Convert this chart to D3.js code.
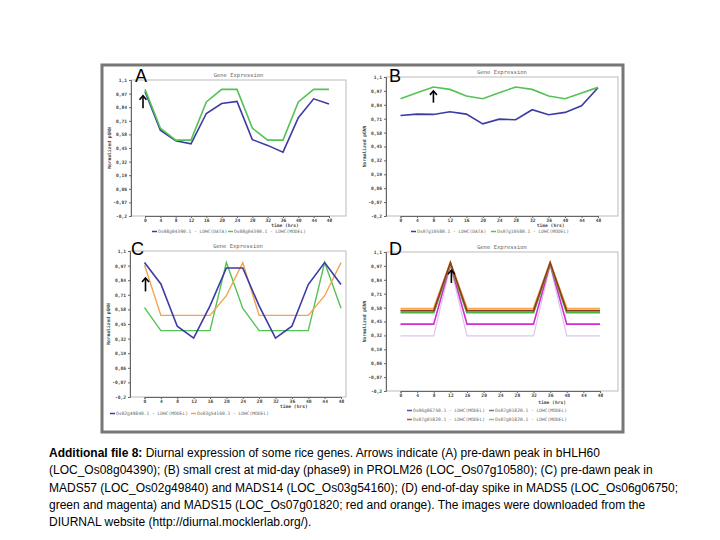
<!DOCTYPE html>
<html><head><meta charset="utf-8">
<script src="https://cdn.jsdelivr.net/npm/d3@7"></script>
<style>body{margin:0;background:#fff}svg{display:block}</style>
</head><body>
<svg id="c" width="720" height="540"></svg>
<script>
// ---- data ----
const hours = [0,4,8,12,16,20,24,28,32,36,40,44,48];
const yTicks = [1.1,0.97,0.84,0.71,0.58,0.45,0.32,0.19,0.06,-0.07,-0.2];
const yTickLabels = ["1,1","0,97","0,84","0,71","0,58","0,45","0,32","0,19","0,06","-0,07","-0,2"];

// Panel A: Os08g04390.1
const aData  = [0.99,0.62,0.52,0.49,0.78,0.875,0.895,0.53,0.475,0.41,0.74,0.92,0.87];
const aModel = [1.01,0.64,0.525,0.525,0.89,1.01,1.01,0.64,0.525,0.525,0.89,1.01,1.01];
// Panel B: Os07g10580.1
const bData  = [0.74,0.753,0.75,0.775,0.753,0.662,0.706,0.70,0.794,0.747,0.769,0.831,1.0];
const bModel = [0.897,0.953,1.006,0.984,0.922,0.897,0.953,1.006,0.984,0.922,0.897,0.95,1.003];
// Panel C
const cOs02 = [0.997,0.807,0.43,0.325,0.611,0.949,0.949,0.611,0.325,0.43,0.801,0.997,0.801];
const cOs03 = [0.975,0.527,0.527,0.527,0.527,0.702,0.997,0.527,0.527,0.527,0.527,0.702,0.997];
const cThird = [0.596,0.391,0.391,0.391,0.391,0.997,0.59,0.391,0.391,0.391,0.391,0.997,0.59];
// Panel D
const dOrange   = [0.57,0.57,0.57,1.0,0.57,0.57,0.57,0.57,0.57,1.0,0.57,0.57,0.57];
const dRed      = [0.55,0.55,0.55,1.0,0.55,0.55,0.55,0.55,0.55,1.0,0.55,0.55,0.55];
const dGreen    = [0.535,0.535,0.535,0.99,0.535,0.535,0.535,0.535,0.535,0.99,0.535,0.535,0.535];
const dMagenta  = [0.425,0.425,0.425,0.99,0.425,0.425,0.425,0.425,0.425,0.99,0.425,0.425,0.425];
const dLavender = [0.315,0.315,0.315,0.97,0.315,0.315,0.315,0.315,0.315,0.97,0.315,0.315,0.315];

const legendA = ["Os08g04390.1 - LDHC(DATA)","Os08g04390.1 - LDHC(MODEL)"];
const legendB = ["Os07g10580.1 - LDHC(DATA)","Os07g10580.1 - LDHC(MODEL)"];
const legendC = ["Os02g49840.1 - LDHC(MODEL)","Os03g54160.1 - LDHC(MODEL)"];
const legendD = ["Os06g06750.1 - LDHC(MODEL)","Os07g01820.1 - LDHC(MODEL)","Os07g01820.1 - LDHC(MODEL)","Os07g01820.1 - LDHC(MODEL)"];

const caption = [
  [["Additional file 8:",true],[" Diurnal expression of some rice genes. Arrows indicate (A) pre-dawn peak in bHLH60",false]],
  [["(LOC_Os08g04390); (B) small crest at mid-day (phase9) in PROLM26 (LOC_Os07g10580); (C) pre-dawn peak in",false]],
  [["MADS57 (LOC_Os02g49840) and MADS14 (LOC_Os03g54160); (D) end-of-day spike in MADS5 (LOC_Os06g06750;",false]],
  [["green and magenta) and MADS15 (LOC_Os07g01820; red and orange). The images were downloaded from the",false]],
  [["DIURNAL website (http://diurnal.mocklerlab.org/).",false]]
];

// ---- colours ----
const BLUE="#3b3ba6", GREEN="#55c255", ORANGE="#f4a24e";

const svg = d3.select("#c");
svg.append("rect").attr("x",102).attr("y",65).attr("width",521).attr("height",367)
  .attr("fill","none").attr("stroke","#777").attr("stroke-width",3);

const panels = [
  {letter:"A", L:131,R:346,T:80,B:216, x0:145,x48:329, series:[[aData,BLUE,1.6],[aModel,GREEN,1.6]],
   legend:[[legendA[0],BLUE],[legendA[1],GREEN]], legX:152, legY:233, legRows:1, legStep:76, timeDy:10.5, arrow:{h:0,dx:-2,y1:0.83,y2:0.95}},
  {letter:"B", L:386,R:618,T:77,B:216, x0:400.5,x48:598, series:[[bData,BLUE,1.6],[bModel,GREEN,1.6]],
   legend:[[legendB[0],BLUE],[legendB[1],GREEN]], legX:411, legY:233, legRows:1, legStep:80, timeDy:10.5, arrow:{h:8,dx:0,y1:0.86,y2:0.97}},
  {letter:"C", L:130,R:346,T:251,B:397, x0:144.5,x48:341, series:[[cThird,GREEN,1.4],[cOs03,ORANGE,1.4],[cOs02,BLUE,1.6]],
   legend:[[legendC[0],BLUE],[legendC[1],ORANGE]], legX:110, legY:415, legRows:1, legStep:81, timeDy:10.5, arrow:{h:0,dx:1,y1:0.74,y2:0.86}},
  {letter:"D", L:386,R:618,T:252,B:391, x0:400.5,x48:600, series:[[dLavender,"#dcc4ea",1.2],[dMagenta,"#d22ccd",1.6],[dGreen,"#46b446",2],[dOrange,"#f6a848",2],[dRed,"#8c3a22",1.6]],
   legend:[[legendD[0],"#5a4aa8"],[legendD[1],"#777"],[legendD[2],"#d04a30"],[legendD[3],"#aaa"]], legX:407, legY:412, legRows:2, legStep:82, timeDy:13, arrow:{h:12,dx:1,y1:0.81,y2:0.93}}
];

const tickFont = "'DejaVu Sans Mono', monospace";

panels.forEach(p=>{
  const g = svg.append("g");
  const x = d3.scaleLinear().domain([0,48]).range([p.x0,p.x48]);
  const y = d3.scaleLinear().domain([-0.2,1.1]).range([p.B,p.T]);
  // plot box
  g.append("rect").attr("x",p.L).attr("y",p.T).attr("width",p.R-p.L).attr("height",p.B-p.T)
    .attr("fill","#fff").attr("stroke","#bbb").attr("stroke-width",1);
  // y axis
  const ya = g.append("g").attr("transform",`translate(${p.L},0)`)
    .call(d3.axisLeft(y).tickValues(yTicks).tickSize(2).tickPadding(2)
      .tickFormat((d,i)=>yTickLabels[i]));
  // x axis
  const xa = g.append("g").attr("transform",`translate(0,${p.B})`)
    .call(d3.axisBottom(x).tickValues(hours).tickSize(2).tickPadding(1).tickFormat(d=>String(d)));
  [ya,xa].forEach(a=>{
    a.select(".domain").attr("stroke","#666");
    a.selectAll(".tick line").attr("stroke","#666");
    a.selectAll("text").attr("font-family",tickFont).attr("font-size",4.6).attr("font-weight","bold").attr("fill","#444");
  });
  // titles
  g.append("text").attr("x",(p.L+p.R)/2).attr("y",p.T-3).attr("text-anchor","middle")
    .attr("font-family",tickFont).attr("font-size",5.5).attr("fill","#666").text("Gene Expression");
  g.append("text").attr("transform",`translate(${p.L-20},${(p.T+p.B)/2}) rotate(-90)`).attr("text-anchor","middle")
    .attr("font-family",tickFont).attr("font-size",4.6).attr("font-weight","bold").attr("fill","#444").text("Normalized pGNN");
  g.append("text").attr("x",x(36)+2).attr("y",p.B+p.timeDy).attr("text-anchor","middle")
    .attr("font-family",tickFont).attr("font-size",4.6).attr("font-weight","bold").attr("fill","#444").text("time (hrs)");
  // lines
  const line = d3.line().x((d,i)=>x(hours[i])).y(d=>y(d));
  p.series.forEach(([vals,col,w])=>{
    g.append("path").datum(vals).attr("d",line).attr("fill","none").attr("stroke",col)
      .attr("stroke-width",w).attr("stroke-linejoin","miter");
  });
  // legend
  const perRow = p.legRows===1 ? p.legend.length : 2;
  p.legend.forEach(([txt,col],i)=>{
    const row = Math.floor(i/perRow), colI = i%perRow;
    const lx = p.legX + colI*p.legStep, ly = p.legY + row*9;
    g.append("line").attr("x1",lx).attr("x2",lx+5).attr("y1",ly-1.5).attr("y2",ly-1.5).attr("stroke",col).attr("stroke-width",1.5);
    g.append("text").attr("x",lx+6).attr("y",ly).attr("font-family",tickFont).attr("font-size",4.6).attr("fill","#666").text(txt);
  });
  // arrow annotation
  const ax = x(p.arrow.h)+p.arrow.dx, ay1=y(p.arrow.y1), ay2=y(p.arrow.y2);
  g.append("line").attr("x1",ax).attr("x2",ax).attr("y1",ay1).attr("y2",ay2).attr("stroke","#000").attr("stroke-width",1.6);
  g.append("path").attr("d",`M${ax-3.5},${ay2+4}L${ax},${ay2}L${ax+3.5},${ay2+4}`).attr("fill","none").attr("stroke","#000").attr("stroke-width",1.6);
  // panel letter
  const lx = p.letter==="A"?135:(p.letter==="B"?389:(p.letter==="C"?131:389));
  const lyy = (p.letter==="A"||p.letter==="B")?82:255;
  svg.append("text").attr("x",lx).attr("y",lyy).attr("font-family","'Liberation Sans', Arial, sans-serif")
    .attr("font-size",18).attr("fill","#000").text(p.letter);
});

// caption
caption.forEach((parts,i)=>{
  const t = svg.append("text").attr("x",49).attr("y",457+i*17.3)
    .attr("font-family","'Liberation Sans', Arial, sans-serif").attr("font-size",12).attr("fill","#000");
  parts.forEach(([s,b])=>t.append("tspan").attr("font-weight",b?"bold":"normal").text(s));
});
</script>
</body></html>
